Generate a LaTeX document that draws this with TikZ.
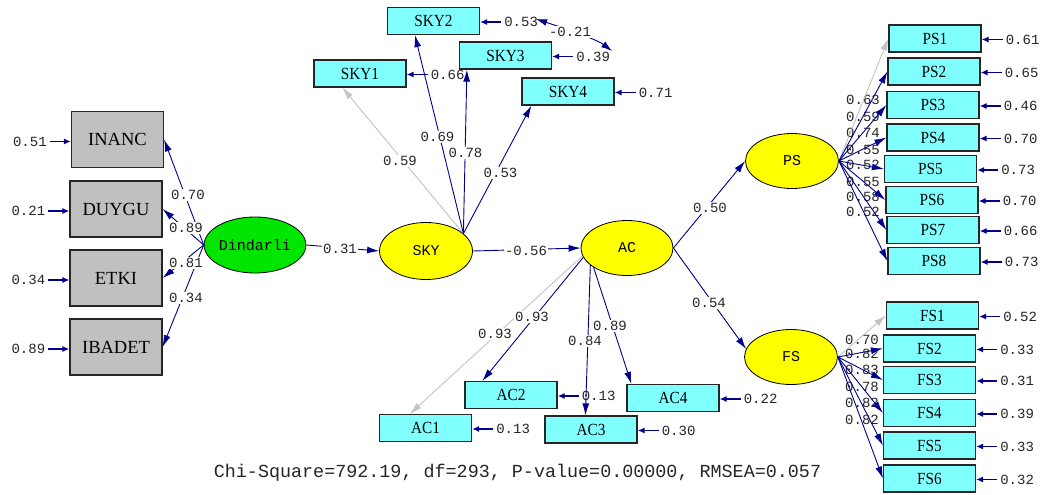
\documentclass[tikz,border=0pt]{standalone}
\usepackage{fontspec}
\setmainfont{Liberation Serif}
\newfontfamily\monofont{Liberation Mono}
\newfontfamily\boxfont[FakeStretch=0.9]{Liberation Serif}
\usetikzlibrary{arrows.meta,calc,shapes.geometric}
\definecolor{navy}{RGB}{0,0,140}
\definecolor{lgray}{RGB}{195,195,195}
\definecolor{cyanbox}{RGB}{128,255,255}
\definecolor{graybox}{RGB}{192,192,192}
\definecolor{latyellow}{RGB}{255,255,0}
\definecolor{latgreen}{RGB}{0,230,0}
\tikzset{
 obsbox/.style={draw=black!85, line width=1.2pt, fill=cyanbox, minimum width=92pt, minimum height=27pt, inner sep=0pt, font=\boxfont\fontsize{17}{17}\selectfont},
 bigbox/.style={draw=black!85, line width=1.2pt, fill=graybox, minimum width=92pt, minimum height=56pt, inner sep=0pt, font=\fontsize{18.5}{18.5}\selectfont},
 latent/.style={ellipse, draw=black, line width=0.8pt, minimum width=93pt, minimum height=56pt, inner sep=0pt, font=\monofont\fontsize{15}{15}\selectfont},
 num/.style={font=\monofont\fontsize{14}{14}\selectfont, text=black!85, inner sep=1pt},
 numw/.style={num, fill=white},
 pathar/.style={draw=navy, line width=0.9pt, -{Latex[length=12pt,width=7pt]}},
 fixpath/.style={pathar, draw=lgray},
 errarr/.style={draw=navy, line width=1.6pt, shorten <=2pt, -{Latex[length=7pt,width=6pt]}},
}
\begin{document}
\begin{tikzpicture}[x=1pt,y=-1pt]
\useasboundingbox[fill=white] (0,0) rectangle (1055,495);

% latent variables
\node[latent, fill=latgreen, minimum width=94pt] (dind) at (255,245) {Dindarli};
\node[latent, fill=latyellow, minimum height=57pt] (sky) at (426,251) {SKY};
\node[latent, fill=latyellow, minimum width=92pt, minimum height=55pt] (ac) at (627,248) {AC};
\node[latent, fill=latyellow, minimum height=55pt] (ps) at (792,161) {PS};
\node[latent, fill=latyellow, minimum height=55pt] (fs) at (791,357) {FS};

% left indicators
\node[bigbox] (inanc) at (117.5,139.5) {INANC};
\node[bigbox] (duygu) at (116,209) {DUYGU};
\node[bigbox] (etki) at (116,278) {ETKI};
\node[bigbox] (ibadet) at (116,347) {IBADET};
\foreach \b/\e in {inanc/0.51, duygu/0.21, etki/0.34, ibadet/0.89}{
  \node[num] (e\b) at ($(\b.west)+(-41,2)$) {\e};
  \draw[errarr] (e\b.east) -- (\b.west |- e\b.east);
}
\draw[pathar] (dind.west) -- (inanc.east);
\draw[pathar] (dind.west) -- (duygu.east);
\draw[pathar] (dind.west) -- (etki.east);
\draw[pathar] (dind.west) -- (ibadet.east);
\node[numw] (l1) at (188,195) {0.70};
\node[numw] (l2) at (186,228) {0.89};
\node[numw] (l3) at (186,263) {0.81};
\node[numw] (l4) at (186,298) {0.34};

% structural paths
\draw[pathar] (dind.east) -- (sky.west);
\node[numw] (l31) at (340,249) {0.31};
\draw[pathar] (sky.east) -- (ac.west);
\node[numw] (l56) at (526,251) {-0.56};
\draw[pathar] (ac.east) -- (ps.west);
\node[numw] (l50) at (710,208) {0.50};
\draw[pathar] (ac.east) -- (fs.170);
\node[numw] (l54) at (709,303) {0.54};

% SKY indicators
\node[obsbox] (sky1) at (360,73.5) {SKY1};
\node[obsbox] (sky2) at (433.5,21) {SKY2};
\node[obsbox] (sky3) at (505.5,55.5) {SKY3};
\node[obsbox] (sky4) at (568,91.5) {SKY4};
\foreach \b/\e in {sky1/0.66, sky2/0.53, sky3/0.39, sky4/0.71}{
  \node[num] (e\b) at ($(\b.east)+(41,1)$) {\e};
  \draw[errarr] (e\b.west) -- (\b.east |- e\b.west);
}
\draw[fixpath] (sky.25) -- ($(sky1.south west)+(29,0)$);
\draw[pathar] (sky.25) -- ($(sky2.south west)+(28,0)$);
\draw[pathar] (sky.25) -- ($(sky3.south west)+(8,0)$);
\draw[pathar] (sky.25) -- ($(sky4.south west)+(10,0)$);
\node[numw] (l59) at (400,161) {0.59};
\node[numw] (l69) at (437.5,137) {0.69};
\node[numw] (l78) at (465.5,153) {0.78};
\node[numw] (l53) at (500.5,173) {0.53};
% correlated errors
\coordinate (c53) at (536,19);
\coordinate (c39) at (612,51);
\draw[draw=navy, line width=0.9pt, {Latex[length=11pt,width=7pt]}-{Latex[length=11pt,width=7pt]}] (c53) .. controls (545,22) and (595,38) .. (c39);
\node[numw] (l21) at (570,32) {-0.21};

% AC indicators
\node[obsbox] (ac1) at (425.5,428) {AC1};
\node[obsbox] (ac2) at (511,395) {AC2};
\node[obsbox] (ac3) at (591,429.5) {AC3};
\node[obsbox] (ac4) at (673,398) {AC4};
\foreach \b/\e in {ac1/0.13, ac2/0.13, ac3/0.30, ac4/0.22}{
  \node[num] (e\b) at ($(\b.east)+(41,1)$) {\e};
  \draw[errarr] (e\b.west) -- (\b.east |- e\b.west);
}
\draw[fixpath] (ac.190) -- ($(ac1.north west)+(31,0)$);
\draw[pathar] (ac.192) -- ($(ac2.north west)+(18,0)$);
\draw[pathar] (ac.205) -- ($(ac3.north west)+(41,0)$);
\draw[pathar] (ac.210) -- ($(ac4.north west)+(5,0)$);
\node[numw] (la1) at (495,334) {0.93};
\node[numw] (la2) at (532,317) {0.93};
\node[numw] (la3) at (585,341) {0.84};
\node[numw] (la4) at (610,326) {0.89};

% PS indicators
\foreach \n/\x/\y/\e in {1/935/38.5/0.61, 2/934/71.5/0.65, 3/933/105/0.46, 4/933/137.5/0.70, 5/930.5/169/0.73, 6/932/200/0.70, 7/933/230/0.66, 8/934/261/0.73}{
  \node[obsbox] (ps\n) at (\x,\y) {PS\n};
  \node[num] (eps\n) at ($(ps\n.east)+(41,1)$) {\e};
  \draw[errarr] (eps\n.west) -- (ps\n.east |- eps\n.west);
}
\foreach \v/\y [count=\i] in {0.63/100, 0.59/117, 0.74/133, 0.55/150, 0.52/165, 0.55/182, 0.58/197, 0.52/212}{
  \node[num] (lps\i) at (863,\y) {\v};
}
\draw[fixpath] (ps.east) -- (ps1.west);
\foreach \n in {2,...,8}{
  \draw[pathar] (ps.east) -- (ps\n.west);
}

% FS indicators
\foreach \n/\x/\y/\e in {1/932.5/315.5/0.52, 2/929.5/348.5/0.33, 3/929.5/380/0.31, 4/929.5/413/0.39, 5/929.5/445.5/0.33, 6/929.5/478.5/0.32}{
  \node[obsbox] (fs\n) at (\x,\y) {FS\n};
  \node[num] (efs\n) at ($(fs\n.east)+(41,1)$) {\e};
  \draw[errarr] (efs\n.west) -- (fs\n.east |- efs\n.west);
}
\foreach \v/\y [count=\i] in {0.70/340, 0.82/354, 0.83/370, 0.78/387, 0.82/403, 0.82/420}{
  \node[num] (lfs\i) at (862,\y) {\v};
}
\draw[fixpath] (fs.east) -- (fs1.west);
\foreach \n in {2,...,6}{
  \draw[pathar] (fs.east) -- (fs\n.west);
}

% fit statistics
\node[font=\monofont\fontsize{18.4}{18.4}\selectfont, text=black!85] (fit) at (517.5,473) {Chi-Square=792.19, df=293, P-value=0.00000, RMSEA=0.057};
\end{tikzpicture}
\end{document}
